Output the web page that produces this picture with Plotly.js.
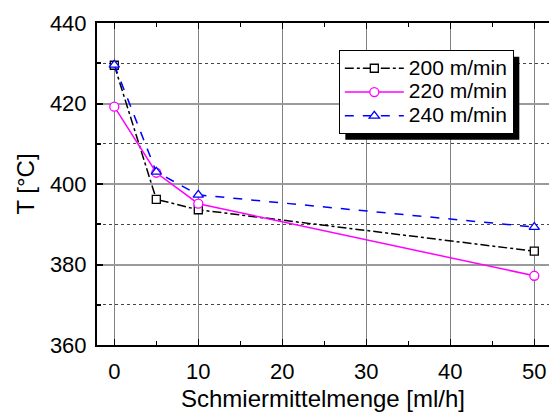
<!DOCTYPE html>
<html>
<head>
<meta charset="utf-8">
<script src="https://cdn.plot.ly/plotly-3.0.1.min.js"></script>
<style>html,body{margin:0;padding:0;background:#fff;}#chart{width:549px;height:412px;}</style>
</head>
<body>
<div id="chart"></div>
<script>
// Data
const xValues = [0, 5, 10, 50];
const seriesNames = ['200 m/min', '220 m/min', '240 m/min'];
const t200 = [429.5, 396.2, 393.6, 383.3];
const t220 = [419.2, 402.8, 395.1, 377.2];
const t240 = [429.6, 403.0, 397.3, 389.3];
const xTickVals = [0, 10, 20, 30, 40, 50];
const yTickVals = [360, 380, 400, 420, 440];

const fontFam = 'Liberation Sans, Arial, sans-serif';
const legendLabel = s => '<span style="font-size:21px">' + s + '</span>';

const traces = [
  {
    x: xValues, y: t200, name: legendLabel(seriesNames[0]), type: 'scatter', mode: 'lines+markers',
    line: {color: '#000000', width: 1.5, dash: 'dashdot'},
    marker: {symbol: 'square', size: 8, color: '#ffffff', line: {color: '#000000', width: 1.3}}
  },
  {
    x: xValues, y: t220, name: legendLabel(seriesNames[1]), type: 'scatter', mode: 'lines+markers',
    line: {color: '#ff00ff', width: 1.5},
    marker: {symbol: 'circle', size: 9, color: '#ffffff', line: {color: '#ff00ff', width: 1.3}}
  },
  {
    x: xValues, y: t240, name: legendLabel(seriesNames[2]), type: 'scatter', mode: 'lines+markers',
    line: {color: '#0000ff', width: 1.5, dash: 'dash'},
    marker: {symbol: 'triangle-up', size: 9, color: '#ffffff', line: {color: '#0000ff', width: 1.3}}
  }
];

const layout = {
  width: 549, height: 412,
  margin: {l: 97, r: 0, t: 23, b: 67},
  paper_bgcolor: '#ffffff', plot_bgcolor: '#ffffff',
  font: {family: fontFam, size: 22, color: '#000'},
  showlegend: true,
  legend: {
    x: 0.535, y: 0.915, xanchor: 'left', yanchor: 'top',
    bgcolor: '#ffffff', bordercolor: '#000000', borderwidth: 1,
    font: {family: fontFam, size: 16, color: '#000'},
    tracegroupgap: 0, itemwidth: 59
  },
  xaxis: {
    range: [-2.06, 51.75],
    tickvals: xTickVals,
    ticks: 'inside', ticklen: 6, tickwidth: 1.5, tickcolor: '#000',
    showline: true, linecolor: '#000', linewidth: 2, mirror: 'ticks',
    showgrid: true, gridcolor: '#808080', gridwidth: 1,
    zeroline: false,
    minor: {dtick: 5, ticks: 'inside', ticklen: 4, tickcolor: '#000', showgrid: false},
    tickfont: {family: fontFam, size: 22},
    ticklabelstandoff: 6,
    title: {text: 'Schmiermittelmenge [ml/h]', font: {family: fontFam, size: 24}, standoff: 9}
  },
  yaxis: {
    range: [360, 440],
    tickvals: yTickVals,
    ticks: 'inside', ticklen: 6, tickwidth: 2, tickcolor: '#000',
    showline: true, linecolor: '#000', linewidth: 2, mirror: false,
    showgrid: true, gridcolor: '#9a9a9a', gridwidth: 2,
    zeroline: false,
    minor: {dtick: 10, ticks: 'inside', ticklen: 4, tickcolor: '#000', showgrid: true, gridcolor: '#444', griddash: 'dot', gridwidth: 1},
    tickfont: {family: fontFam, size: 22},
    ticklabelstandoff: 4,
    title: {text: 'T [°C]', font: {family: fontFam, size: 24}, standoff: 8}
  }
};

const gd = document.getElementById('chart');
Plotly.newPlot(gd, traces, layout, {displayModeBar: false, staticPlot: true}).then(() => {
  // Drop shadow behind the legend box, offset by 6px
  const bg = gd.querySelector('.legend .bg');
  if (!bg) return;
  const r = bg.getBoundingClientRect();
  const c = gd.getBoundingClientRect();
  const sz = gd._fullLayout._size;
  const off = 6;
  const px = v => (v - c.left - sz.l) / sz.w;
  const py = v => 1 - (v - c.top - sz.t) / sz.h;
  return Plotly.relayout(gd, {
    shapes: [{
      type: 'rect', xref: 'paper', yref: 'paper', layer: 'above',
      x0: px(r.left + off), x1: px(r.right + off),
      y0: py(r.bottom + off), y1: py(r.top + off),
      fillcolor: '#000000', line: {width: 0}
    }]
  });
});
</script>
</body>
</html>
